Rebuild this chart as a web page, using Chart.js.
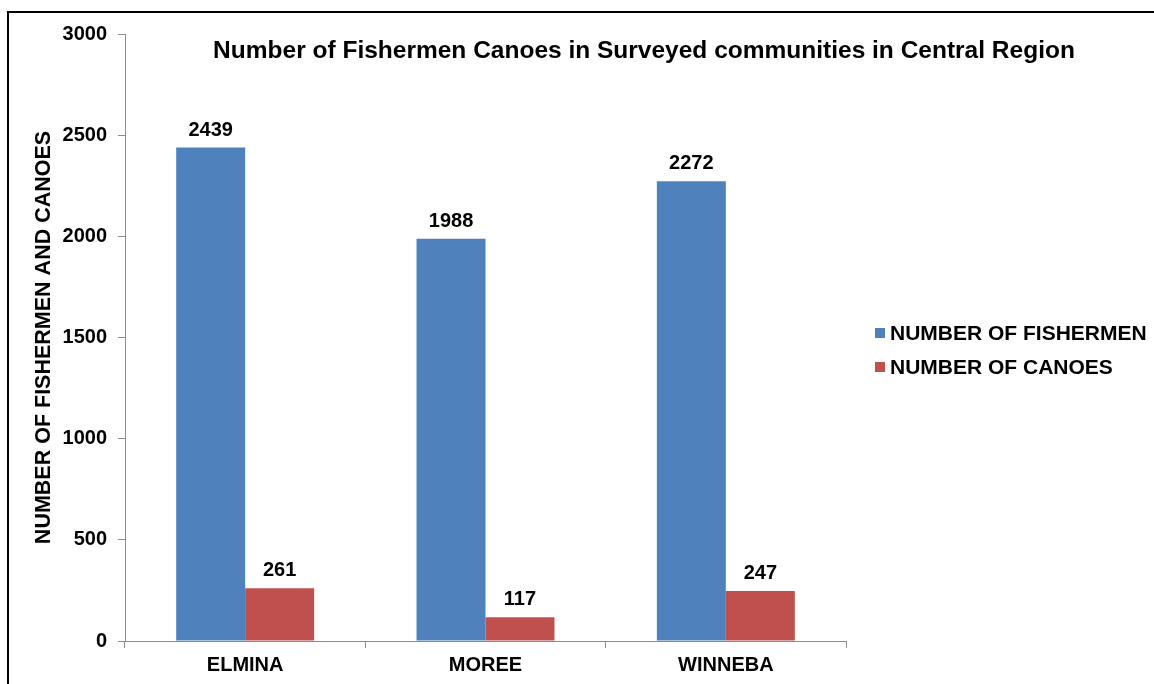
<!DOCTYPE html>
<html>
<head>
<meta charset="utf-8">
<title>Fishermen and Canoes</title>
<script src="https://cdn.jsdelivr.net/npm/chart.js@4.4.1/dist/chart.umd.min.js"></script>
<style>
    html, body { margin: 0; padding: 0; background: #fff; overflow: hidden; }
    #wrap { position: relative; width: 1154px; height: 684px; }
    #frame {
        position: absolute; left: 7px; top: 11px; width: 1200px; height: 700px;
        border-top: 2px solid #000; border-left: 2px solid #000;
    }
    #chart { position: absolute; left: 0; top: 0; }
    #legend {
        position: absolute; left: 875px; top: 316px;
        font: bold 21px "Liberation Sans", Arial, sans-serif; color: #000;
    }
    #legend .item { display: flex; align-items: center; height: 34px; white-space: nowrap; }
    #legend .box { width: 10px; height: 10px; margin-right: 5px; }
</style>
</head>
<body>
<div id="wrap">
    <div id="frame"></div>
    <canvas id="chart" width="1154" height="684"></canvas>
    <div id="legend"></div>
</div>
<script>
// chart data
const communities = ['ELMINA', 'MOREE', 'WINNEBA'];
const fishermen = [2439, 1988, 2272];
const canoes = [261, 117, 247];
const seriesNames = ['NUMBER OF FISHERMEN', 'NUMBER OF CANOES'];
const chartTitle = 'Number of Fishermen Canoes in Surveyed communities in Central Region';
const axisTitle = 'NUMBER OF FISHERMEN AND CANOES';

(function () {
    'use strict';

    const FONT = '"Liberation Sans", Arial, sans-serif';

    // value labels above bars + title drawn inside plot
    const labelPlugin = {
        id: 'valueLabels',
        afterDatasetsDraw(chart) {
            const ctx = chart.ctx;
            ctx.save();
            ctx.fillStyle = '#000';
            ctx.font = 'bold 20px ' + FONT;
            ctx.textAlign = 'center';
            ctx.textBaseline = 'alphabetic';
            chart.data.datasets.forEach((ds, i) => {
                const meta = chart.getDatasetMeta(i);
                meta.data.forEach((bar, j) => {
                    ctx.fillText(String(ds.data[j]), bar.x, bar.y - 12);
                });
            });

            ctx.font = 'bold 24.5px ' + FONT;
            ctx.textBaseline = 'middle';
            ctx.fillText(chartTitle, chart.chartArea.left + 519, chart.chartArea.top + 17);
            ctx.restore();
        }
    };

    // html legend built from the datasets
    const htmlLegend = {
        id: 'htmlLegend',
        afterUpdate(chart) {
            const el = document.getElementById('legend');
            el.innerHTML = '';
            chart.data.datasets.forEach(ds => {
                const item = document.createElement('div');
                item.className = 'item';
                const box = document.createElement('span');
                box.className = 'box';
                box.style.background = ds.backgroundColor;
                const txt = document.createElement('span');
                txt.textContent = ds.label;
                item.appendChild(box);
                item.appendChild(txt);
                el.appendChild(item);
            });
        }
    };

    new Chart(document.getElementById('chart').getContext('2d'), {
        type: 'bar',
        data: {
            labels: communities,
            datasets: [{
                label: seriesNames[0],
                data: fishermen,
                backgroundColor: '#4F81BD',
                borderWidth: 0
            }, {
                label: seriesNames[1],
                data: canoes,
                backgroundColor: '#C0504D',
                borderWidth: 0
            }]
        },
        options: {
            responsive: false,
            animation: false,
            devicePixelRatio: 1,
            categoryPercentage: 0.574,
            barPercentage: 1.0,
            layout: {
                padding: { left: 31, top: 34, right: 308, bottom: 2 }
            },
            plugins: {
                legend: { display: false },
                title: { display: false },
                tooltip: { enabled: false }
            },
            scales: {
                x: {
                    grid: {
                        display: true,
                        drawOnChartArea: false,
                        drawTicks: true,
                        tickLength: 7,
                        color: '#8c8c8c'
                    },
                    border: { color: '#8c8c8c', width: 1 },
                    ticks: {
                        color: '#000',
                        padding: 5,
                        font: { family: FONT, size: 20, weight: 'bold' }
                    }
                },
                y: {
                    min: 0,
                    max: 3000,
                    afterFit(scale) { scale.width = 94; },
                    grid: {
                        display: true,
                        drawOnChartArea: false,
                        drawTicks: true,
                        tickLength: 7,
                        color: '#8c8c8c'
                    },
                    border: { color: '#8c8c8c', width: 1 },
                    ticks: {
                        stepSize: 500,
                        color: '#000',
                        padding: 11,
                        font: { family: FONT, size: 20, weight: 'bold' },
                        callback: (value) => String(value)
                    },
                    title: {
                        display: true,
                        text: axisTitle,
                        color: '#000',
                        padding: { top: 0, bottom: 0 },
                        font: { family: FONT, size: 21.5, weight: 'bold' }
                    }
                }
            }
        },
        plugins: [labelPlugin, htmlLegend]
    });
})();
</script>
</body>
</html>
